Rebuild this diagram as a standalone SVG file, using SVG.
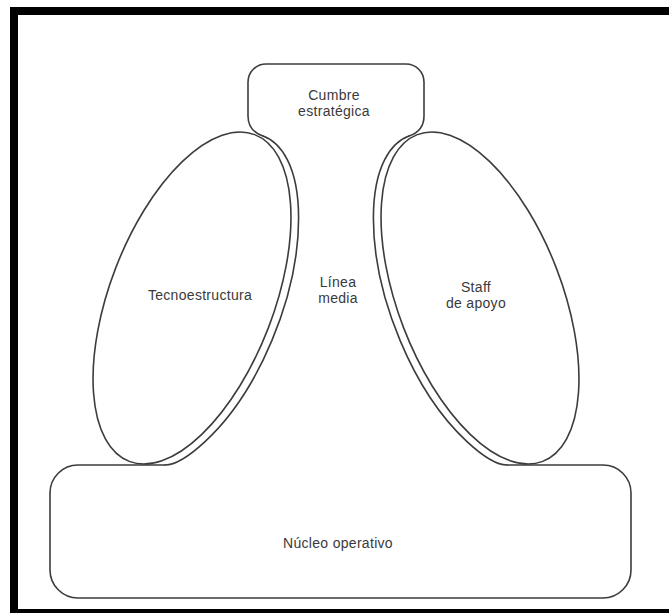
<svg xmlns="http://www.w3.org/2000/svg" width="669" height="613" viewBox="0 0 669 613">
<style>
.ln{fill:none;stroke:#3c3c3c;stroke-width:1.6;stroke-linejoin:round;stroke-linecap:round}
.t{font-family:"Liberation Sans",Arial,Helvetica,sans-serif;font-size:14px;letter-spacing:0.3px;fill:#3a3a3a;text-anchor:middle}
.frame{fill:#000}
</style>
<rect width="669" height="613" fill="#fff"/>
<g id="frame">
<rect class="frame" x="10" y="7" width="659" height="8"/>
<rect class="frame" x="10" y="7" width="8" height="606"/>
<rect class="frame" x="10" y="609" width="659" height="4"/>
</g>
<g id="tecnoestructura">
<ellipse class="ln" cx="192" cy="298" rx="82" ry="175" transform="rotate(21 192 298)"/>
<text class="t" x="200" y="300">Tecnoestructura</text>
</g>
<g id="staff-de-apoyo">
<ellipse class="ln" cx="480" cy="298" rx="82" ry="175" transform="rotate(-21 480 298)"/>
<text class="t" x="476" y="292">Staff</text>
<text class="t" x="476" y="308">de apoyo</text>
</g>
<g id="cumbre-estrategica">
<path class="ln" d="M409,136 Q424,131 424,116 L424,82 A18,18 0 0 0 406,64 L266,64 A18,18 0 0 0 248,82 L248,116 Q248,131 263,136"/>
<text class="t" x="334" y="100">Cumbre</text>
<text class="t" x="334" y="116">estratégica</text>
</g>
<g id="linea-media">
<path class="ln" d="M263,136 C280,142 298.6,165 298.6,218.2 A90,183 21 0 1 205,441.6 C192.3,453.4 178,465 165,465"/>
<path class="ln" d="M507,465 C494,465 479.7,453.4 467,441.6 A90,183 -21 0 1 373.4,218.2 C373.4,165 392,142 409,136"/>
<text class="t" x="338" y="287">Línea</text>
<text class="t" x="338" y="303">media</text>
</g>
<g id="nucleo-operativo">
<path class="ln" d="M165,465 L78,465 A28,28 0 0 0 50,493 L50,570 A28,28 0 0 0 78,598 L603,598 A28,28 0 0 0 631,570 L631,493 A28,28 0 0 0 603,465 L507,465"/>
<text class="t" x="338" y="548">Núcleo operativo</text>
</g>
</svg>
